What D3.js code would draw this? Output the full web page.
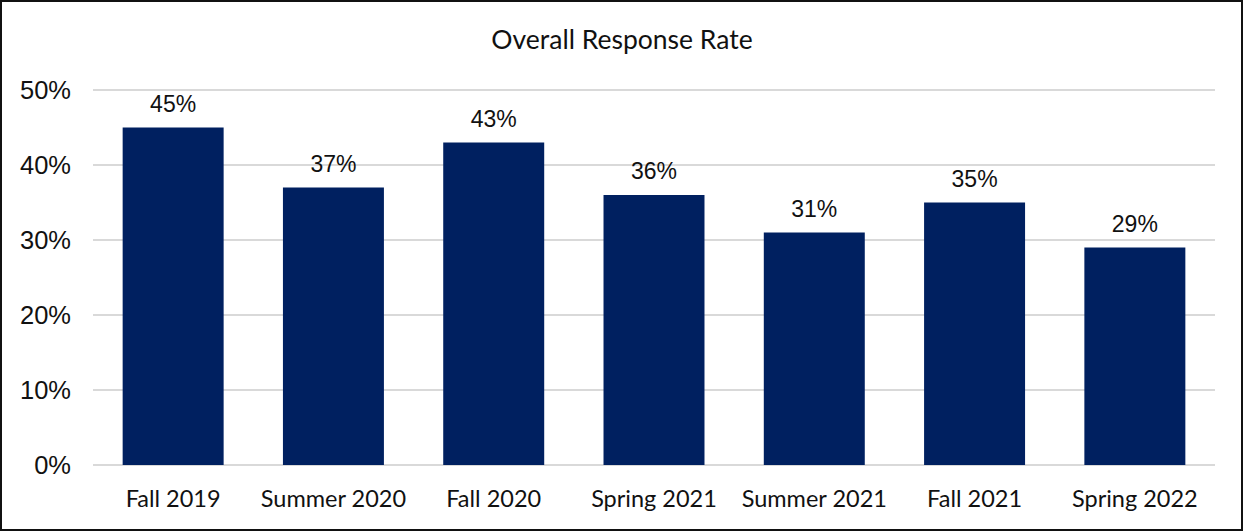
<!DOCTYPE html>
<html>
<head>
<meta charset="utf-8">
<script src="https://cdn.jsdelivr.net/npm/d3@7"></script>
<style>
  body { margin: 0; background: #fff; }
  svg { display: block; }
</style>
</head>
<body>
<div id="chart"></div>
<script>
const categories = ['Fall 2019', 'Summer 2020', 'Fall 2020', 'Spring 2021', 'Summer 2021', 'Fall 2021', 'Spring 2022'];
const rates = [45, 37, 43, 36, 31, 35, 29];
const yTicks = [0, 10, 20, 30, 40, 50];

const width = 1245, height = 532;
const margin = { top: 90, right: 30, bottom: 67, left: 93 };

const svg = d3.select('#chart')
    .append('svg')
    .attr('width', width)
    .attr('height', height);

// outer frame
svg.append('rect')
    .attr('x', 1).attr('y', 1)
    .attr('width', width - 4).attr('height', height - 3)
    .attr('fill', '#fff')
    .attr('stroke', '#111')
    .attr('stroke-width', 2);

svg.append('text')
    .attr('x', 622)
    .attr('y', 49)
    .attr('text-anchor', 'middle')
    .attr('font-family', 'Lato, "Open Sans", sans-serif')
    .attr('font-size', 26.5)
    .attr('fill', '#111')
    .text('Overall Response Rate');

const x = d3.scaleBand()
    .domain(categories)
    .range([margin.left, width - margin.right])
    .paddingInner(0.37)
    .paddingOuter(0.185);

const y = d3.scaleLinear()
    .domain([0, 50])
    .range([height - margin.bottom, margin.top]);

// gridlines
svg.append('g')
    .selectAll('line')
    .data(yTicks)
    .enter().append('line')
    .attr('x1', margin.left)
    .attr('x2', width - margin.right)
    .attr('y1', d => y(d))
    .attr('y2', d => y(d))
    .attr('stroke', '#d9d9d9')
    .attr('stroke-width', 2);

// y tick labels
svg.append('g')
    .selectAll('text')
    .data(yTicks)
    .enter().append('text')
    .attr('x', 71)
    .attr('y', d => y(d))
    .attr('dy', '0.35em')
    .attr('text-anchor', 'end')
    .attr('font-family', '"Liberation Sans", Arial, sans-serif')
    .attr('font-size', 25.5)
    .attr('fill', '#111')
    .text(d => d + '%');

// bars
svg.append('g')
    .selectAll('rect')
    .data(rates)
    .enter().append('rect')
    .attr('x', (d, i) => x(categories[i]))
    .attr('y', d => y(d))
    .attr('width', x.bandwidth())
    .attr('height', d => y(0) - y(d))
    .attr('fill', '#002060');

// value labels
svg.append('g')
    .selectAll('text')
    .data(rates)
    .enter().append('text')
    .attr('x', (d, i) => x(categories[i]) + x.bandwidth() / 2)
    .attr('y', d => y(d) - 16)
    .attr('text-anchor', 'middle')
    .attr('font-family', '"Liberation Sans", Arial, sans-serif')
    .attr('font-size', 23)
    .attr('fill', '#111')
    .text(d => d + '%');

// category labels
svg.append('g')
    .selectAll('text')
    .data(categories)
    .enter().append('text')
    .attr('x', d => x(d) + x.bandwidth() / 2)
    .attr('y', 507)
    .attr('text-anchor', 'middle')
    .attr('font-family', 'Lato, "Open Sans", sans-serif')
    .attr('font-size', 23.5)
    .attr('fill', '#111')
    .text(d => d);
</script>
</body>
</html>
